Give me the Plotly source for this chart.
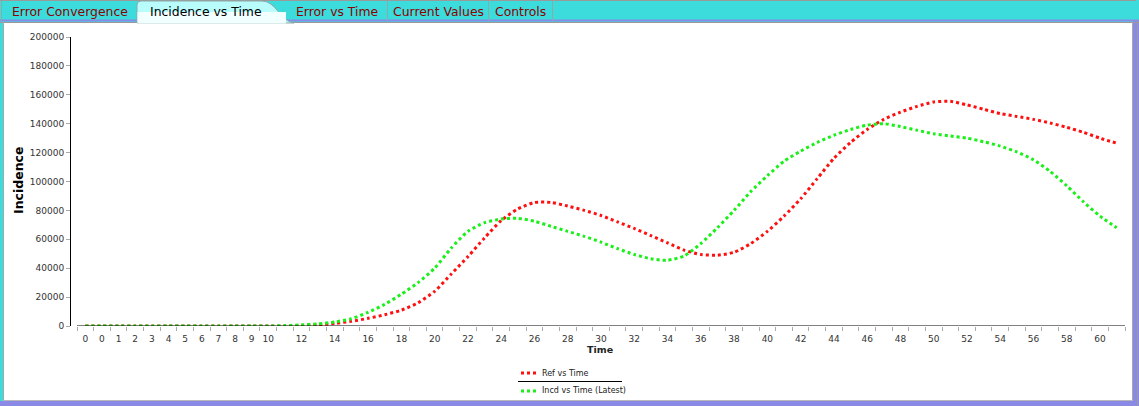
import plotly.graph_objects as go

# ---------------- data ----------------
time_labels = ["0", "0"] + [str(t) for t in range(1, 62)]  # 63 categories
shown_labels = ["0", "0", "1", "2", "3", "4", "5", "6", "7", "8", "9", "10"] + [str(t) for t in range(12, 61, 2)]

ref_values = [0, 0, 0, 0, 0, 0, 0, 0, 0, 0, 0, 0,
              100, 300, 800, 1800, 3300, 5300, 7800, 11000, 16000,
              24000, 36000, 48000, 61000, 73000, 81000, 85500, 85500, 83000, 80000,
              76500, 72000, 67500, 62500, 57500, 52500, 49500, 49000, 51000, 57000,
              65500, 76000, 88000, 102000, 116000, 127000, 136000, 143000, 148000, 152000,
              155000, 155500, 153000, 150000, 147000, 145000, 143000, 140500, 137500, 134000,
              130000, 126500]

incd_values = [0, 0, 0, 0, 0, 0, 0, 0, 0, 0, 0, 0,
               300, 800, 1500, 2800, 5000, 9500, 15000, 22000, 30000,
               40000, 54000, 65500, 71500, 74000, 74500, 72500, 69000, 65500, 62000,
               58000, 53500, 49500, 46500, 45500, 48500, 57000, 68000, 80000, 93000,
               104000, 114000, 121000, 127000, 132000, 136000, 139000, 140000, 138000, 135500,
               133000, 131500, 130000, 127500, 124500, 120500, 115000, 107000, 97000, 86000,
               76000, 68000]

y_ticks = list(range(0, 200001, 20000))
tab_names = ["Error Convergence", "Incidence vs Time", "Error vs Time", "Current Values", "Controls"]
series_names = ["Ref vs Time", "Incd vs Time (Latest)"]

# ---------------- layout geometry ----------------
W_PAGE, H_PAGE = 1139, 406
L, R, T, B = 71, 1125, 37, 326
PW, PH = R - L, B - T


def xp(px):
    return (px - L) / PW


def yp(py):
    return (B - py) / PH


idx = list(range(len(time_labels)))
shown_idx = []
j = 0
for i, lab in enumerate(time_labels):
    if j < len(shown_labels) and lab == shown_labels[j]:
        shown_idx.append(i)
        j += 1

RED = "#ff1010"
GREEN = "#18f018"
CYAN = "#3cdcdc"
PURPLE = "#8a8ae6"
GREY = "#a8a8a8"

fig = go.Figure()
fig.add_trace(go.Scatter(x=idx, y=ref_values, mode="lines", name=series_names[0],
                         line=dict(color=RED, width=3, dash="dot", shape="spline", smoothing=0.6),
                         showlegend=False))
fig.add_trace(go.Scatter(x=idx, y=incd_values, mode="lines", name=series_names[1],
                         line=dict(color=GREEN, width=3, dash="dot", shape="spline", smoothing=0.6),
                         showlegend=False))
# invisible trace for the tick-mark axis
fig.add_trace(go.Scatter(x=[0], y=[0], xaxis="x2", mode="markers", marker=dict(opacity=0),
                         hoverinfo="skip", showlegend=False))

n = len(time_labels)
xrange = [-0.5 - 6 / (PW - 6) * n, n - 0.5]

shapes = []
# x axis line
shapes.append(dict(type="line", xref="x", yref="y", x0=-0.5, x1=n - 0.5, y0=0, y1=0,
                   line=dict(color="black", width=1)))

# ---- frame ----
def prect(x0, y0, x1, y1, color):
    return dict(type="rect", xref="paper", yref="paper", x0=xp(x0), x1=xp(x1), y0=yp(y0), y1=yp(y1),
                fillcolor=color, line=dict(width=0), layer="below")


def pline(x0, y0, x1, y1, color, w=1):
    return dict(type="line", xref="paper", yref="paper", x0=xp(x0), x1=xp(x1), y0=yp(y0), y1=yp(y1),
                line=dict(color=color, width=w))


shapes.append(prect(0, 0, W_PAGE, 22, CYAN))
shapes.append(prect(0, 22, 3, H_PAGE, CYAN))
shapes.append(prect(1133, 20, W_PAGE, H_PAGE, PURPLE))
shapes.append(prect(0, 401, W_PAGE, H_PAGE, PURPLE))
shapes.append(pline(0, 0.5, 1136, 0.5, "#9a9a9a"))
shapes.append(pline(0, 20.5, W_PAGE, 20.5, PURPLE, 2))
shapes.append(pline(0, 22.5, W_PAGE, 22.5, "#9a9a9a"))
shapes.append(pline(3.5, 22, 3.5, 401, GREY))
shapes.append(pline(1132.5, 22, 1132.5, 401, GREY))
shapes.append(pline(3, 400.5, 1133, 400.5, "#b8b8b8"))
shapes.append(pline(1137.5, 20, 1137.5, H_PAGE, "#9a9a9a"))
# tab separators
for sx in [1.5, 387.5, 488.5, 552.5]:
    shapes.append(pline(sx, 1, sx, 21, "#8fa8a8"))
# selected tab
def P(x, y):
    return f"{xp(x):.6f},{yp(y):.6f}"


path = (f"M {P(137, 23)} L {P(137, 5)} Q {P(137, 1)} {P(141, 1)} L {P(262, 1)} "
        f"C {P(276, 1)} {P(280, 21)} {P(294, 23)} Z")
shapes.append(dict(type="path", xref="paper", yref="paper", path=path,
                   fillcolor="#b8fcfc", line=dict(color="#8fa8a8", width=1)))
shapes.append(prect(137.5, 12, 286, 23.5, "#f2ffff"))
shapes[-1]["layer"] = "above"
# legend decorations
shapes.append(pline(518, 381.5, 622, 381.5, "black"))
shapes.append(dict(type="line", xref="paper", yref="paper", x0=xp(521), x1=xp(536), y0=yp(373), y1=yp(373),
                   line=dict(color=RED, width=3, dash="dot")))
shapes.append(dict(type="line", xref="paper", yref="paper", x0=xp(521), x1=xp(536), y0=yp(391), y1=yp(391),
                   line=dict(color=GREEN, width=3, dash="dot")))

annotations = []
tab_pos = [70, 206, 337, 438, 520]
for name, cx in zip(tab_names, tab_pos):
    annotations.append(dict(text=name, x=xp(cx), y=yp(11.5), xref="paper", yref="paper",
                            showarrow=False, xanchor="center", yanchor="middle",
                            font=dict(family="DejaVu Sans", size=12.4,
                                      color="black" if name == "Incidence vs Time" else "#8b0000")))
annotations.append(dict(text="<b>Incidence</b>", x=xp(18), y=yp(181), xref="paper", yref="paper",
                        showarrow=False, textangle=-90, xanchor="center", yanchor="middle",
                        font=dict(family="DejaVu Sans", size=12.5, color="black")))
annotations.append(dict(text="<b>Time</b>", x=xp(600), y=yp(349), xref="paper", yref="paper",
                        showarrow=False, xanchor="center", yanchor="middle",
                        font=dict(family="DejaVu Sans", size=9.5, color="#222")))
for name, ty in zip(series_names, [373, 390.5]):
    annotations.append(dict(text=name, x=xp(540), y=yp(ty), xref="paper", yref="paper",
                            showarrow=False, xanchor="left", yanchor="middle",
                            font=dict(family="DejaVu Sans", size=8, color="#222")))

fig.update_layout(
    width=W_PAGE, height=H_PAGE,
    margin=dict(l=L, r=W_PAGE - R, t=T, b=H_PAGE - B, pad=0),
    paper_bgcolor="white", plot_bgcolor="white",
    showlegend=False,
    font=dict(family="DejaVu Sans", size=9, color="#333"),
    xaxis=dict(range=xrange, tickvals=shown_idx, ticktext=shown_labels, ticks="outside", ticklen=4,
               tickcolor="rgba(0,0,0,0)", showline=False, showgrid=False, zeroline=False,
               tickfont=dict(size=9, color="#333"), fixedrange=True),
    xaxis2=dict(range=xrange, overlaying="x", anchor="y", side="bottom",
                tickvals=[k - 0.5 for k in range(n + 1)], ticks="outside", ticklen=4, tickcolor="#aaa",
                showticklabels=False, showline=False, showgrid=False, zeroline=False),
    yaxis=dict(range=[0, 200000], tickvals=y_ticks, tickformat="d", ticks="outside", ticklen=4,
               tickcolor="#aaa", showline=True, linecolor="black", linewidth=1, showgrid=False,
               zeroline=False, tickfont=dict(size=9, color="#333")),
    shapes=shapes, annotations=annotations,
)

fig.write_html("out.html")
